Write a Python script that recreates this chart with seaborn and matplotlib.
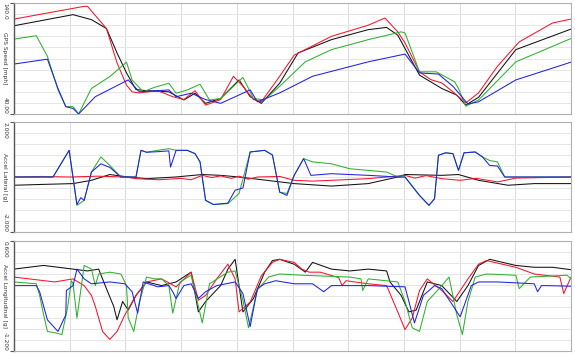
import numpy as np
import pandas as pd
import matplotlib
matplotlib.use("Agg")
import matplotlib.pyplot as plt
import seaborn as sns

sns.set_style("white")
plt.rcParams["font.family"] = ["DejaVu Sans"]

# ---------------- data (distance in grid units) ----------------
# GPS speed [mph]
spd_red_x = [0, 1.26, 1.32, 1.66, 1.85, 2.02, 2.12, 2.25, 2.58, 2.85, 3.05, 3.25, 3.44, 3.71, 3.94, 4.11, 4.30, 4.44, 4.77, 5.03, 5.70, 6.36, 6.66, 6.89, 7.02, 7.28, 7.48, 7.68, 7.88, 8.11, 8.34, 8.68, 9.07, 9.67, 10.0]
spd_red_y = [125.5, 137, 137, 117, 86, 66, 60, 59, 61, 55.6, 53, 61, 48, 53, 74, 65, 53, 51, 74, 93, 110, 120, 126.5, 114, 104, 78, 71, 68, 60, 50, 59, 83, 105, 122, 125.5]
spd_blk_x = [0, 1.06, 1.39, 1.66, 1.85, 2.02, 2.19, 2.38, 2.78, 3.05, 3.25, 3.44, 3.71, 4.04, 4.24, 4.44, 4.77, 5.10, 5.70, 6.36, 6.69, 6.89, 7.28, 7.68, 7.95, 8.11, 8.34, 9.01, 10.0]
spd_blk_y = [119.5, 129.5, 125, 117, 95, 77, 62, 61, 60, 52.6, 58.7, 49.6, 54, 70.7, 55.6, 49.6, 67.7, 95, 107, 116, 118, 111, 75, 63, 57, 48, 55, 98, 116.5]
spd_grn_x = [0, 0.40, 0.60, 0.79, 0.93, 1.06, 1.16, 1.39, 1.72, 2.02, 2.12, 2.32, 2.52, 2.78, 2.91, 3.11, 3.34, 3.51, 3.71, 4.11, 4.30, 4.50, 4.77, 5.23, 5.70, 6.36, 6.95, 7.02, 7.28, 7.58, 7.91, 7.98, 8.11, 8.34, 9.01, 10.0]
spd_grn_y = [107.5, 110.5, 92, 61.7, 46.6, 46.6, 40, 63, 73.7, 86.7, 70.7, 60, 64, 67.7, 58.7, 61.7, 66.8, 52.6, 54, 73, 54, 52.6, 65, 87, 98, 107, 114, 113, 78, 78, 69, 63, 47, 52.6, 87, 108]
spd_blu_x = [0, 0.60, 0.79, 0.93, 1.06, 1.16, 1.46, 2.05, 2.25, 2.78, 2.91, 3.18, 3.44, 3.71, 4.24, 4.37, 4.77, 5.36, 6.36, 7.02, 7.28, 7.62, 7.88, 8.15, 8.34, 9.01, 10.0]
spd_blu_y = [85, 89.4, 63, 46.6, 45, 40, 55.6, 70.7, 60, 61.7, 55.6, 58.7, 53, 49.6, 61.7, 51, 59, 74, 87, 94, 77, 76, 65, 49, 51, 70.7, 86.7]

# Accel lateral [g]
lat_grn_x = [0, 0.70, 0.99, 1.13, 1.26, 1.39, 1.56, 1.72, 1.92, 2.19, 2.28, 2.38, 2.58, 2.78, 2.91, 3.11, 3.25, 3.34, 3.44, 3.58, 3.84, 4.04, 4.24, 4.50, 4.64, 4.77, 4.90, 5.03, 5.20, 5.36, 5.70, 6.03, 6.36, 6.69, 6.89, 7.02, 7.28, 7.45, 7.55, 7.62, 7.75, 7.88, 7.98, 8.08, 8.28, 8.41, 8.54, 8.68, 8.81, 10.0]
lat_grn_y = [0, 0, 0.97, -1.03, -0.85, 0.18, 0.73, 0.42, 0, 0, 0.97, 0.9, 0.97, 1.03, 0.97, 0.97, 0.85, 0.55, -0.85, -1.0, -0.97, -0.6, 0.91, 0.97, 0.8, -0.55, -0.6, 0.06, 0.67, 0.55, 0.48, 0.3, 0.24, 0.18, 0, 0, -0.67, -1.03, -0.79, 0.79, 0.88, 0.85, 0.24, 0.88, 0.91, 0.73, 0.6, 0.55, 0, 0]
lat_blu_x = [0, 0.70, 0.99, 1.13, 1.20, 1.26, 1.39, 1.56, 1.72, 1.92, 2.19, 2.28, 2.38, 2.58, 2.78, 2.81, 2.91, 3.11, 3.25, 3.34, 3.44, 3.58, 3.84, 3.97, 4.11, 4.24, 4.50, 4.64, 4.77, 4.90, 5.03, 5.20, 5.33, 5.70, 6.36, 6.89, 7.02, 7.28, 7.45, 7.55, 7.62, 7.75, 7.88, 7.98, 8.08, 8.28, 8.41, 8.54, 8.68, 8.81, 10.0]
lat_blu_y = [0, 0, 0.97, -1.0, -0.75, -0.85, 0.18, 0.48, 0.35, 0, 0, 0.97, 0.9, 0.92, 0.95, 0.36, 0.97, 0.97, 0.85, 0.55, -0.85, -1.0, -0.95, -0.48, -0.4, 0.91, 0.97, 0.8, -0.55, -0.67, 0.06, 0.67, 0.06, 0.12, 0.06, 0, 0, -0.67, -1.03, -0.79, 0.79, 0.88, 0.85, 0.24, 0.88, 0.91, 0.73, 0.42, 0.4, 0, 0]
lat_red_x = [0, 0.5, 1.0, 1.5, 2.0, 2.19, 2.6, 3.0, 3.18, 3.38, 3.55, 3.71, 3.9, 4.04, 4.2, 4.37, 4.77, 5.03, 5.36, 5.70, 6.36, 7.02, 7.2, 7.4, 7.68, 8.01, 8.3, 8.68, 9.01, 10.0]
lat_red_y = [0, 0.02, 0, 0.03, 0, -0.06, -0.1, -0.05, -0.1, 0.06, -0.02, 0.04, -0.05, 0.03, -0.08, 0, 0.02, -0.12, -0.15, -0.12, -0.06, 0.06, -0.04, 0.05, -0.06, -0.12, -0.05, -0.18, -0.04, 0]
lat_blk_x = [0, 0.5, 1.06, 1.39, 1.72, 2.05, 2.38, 2.9, 3.38, 3.71, 4.04, 4.37, 5.03, 5.70, 6.36, 6.89, 7.02, 7.68, 7.98, 8.34, 8.87, 9.34, 10.0]
lat_blk_y = [-0.3, -0.27, -0.24, -0.12, 0.09, 0, -0.06, 0.0, 0.09, 0.06, 0, -0.08, -0.24, -0.33, -0.24, 0, 0.09, 0.06, 0.09, -0.12, -0.3, -0.24, -0.24]

# Accel longitudinal [g]
lon_blk_x = [0, 0.53, 1.06, 1.32, 1.52, 1.66, 1.79, 1.85, 1.95, 2.05, 2.19, 2.38, 2.65, 2.91, 3.18, 3.31, 3.44, 3.71, 3.84, 3.97, 4.04, 4.11, 4.30, 4.50, 4.64, 4.77, 5.03, 5.23, 5.36, 5.70, 6.03, 6.36, 6.69, 6.75, 6.95, 7.09, 7.22, 7.42, 7.68, 7.95, 8.15, 8.34, 8.54, 9.01, 9.34, 9.67, 10.0]
lon_blk_y = [0.14, 0.2, 0.14, 0.11, 0.14, -0.18, -0.47, -0.69, -0.39, -0.53, -0.29, -0.07, -0.13, -0.07, 0.09, -0.56, -0.39, -0.13, 0.14, 0.3, -0.13, -0.56, -0.34, 0.09, 0.28, 0.3, 0.22, 0.09, 0.25, 0.14, 0.11, 0.14, 0.11, -0.07, -0.29, -0.56, -0.53, -0.07, -0.13, -0.39, -0.13, 0.2, 0.3, 0.2, 0.17, 0.17, 0.13]
lon_red_x = [0, 0.73, 1.06, 1.26, 1.39, 1.46, 1.59, 1.72, 1.85, 1.99, 2.19, 2.38, 2.65, 2.91, 3.18, 3.31, 3.44, 3.64, 3.84, 3.97, 4.04, 4.24, 4.44, 4.64, 4.77, 5.03, 5.17, 5.30, 5.50, 5.83, 5.89, 5.96, 6.36, 6.69, 6.89, 7.02, 7.15, 7.28, 7.42, 7.68, 7.88, 8.15, 8.34, 8.48, 9.01, 9.34, 9.80, 9.87, 10.0]
lon_red_y = [0.01, -0.07, -0.02, -0.13, -0.29, -0.47, -0.88, -1.01, -0.88, -0.61, -0.29, -0.07, -0.02, -0.15, 0.09, -0.37, -0.29, -0.02, 0.22, -0.02, -0.56, -0.4, 0.03, 0.25, 0.3, 0.25, 0.14, 0.09, 0.09, 0.0, -0.13, -0.05, -0.1, -0.13, -0.56, -0.85, -0.66, -0.21, -0.02, -0.21, -0.39, -0.02, 0.22, 0.28, 0.17, 0.06, 0.01, -0.26, 0.01]
lon_grn_x = [0, 0.40, 0.46, 0.53, 0.60, 0.73, 0.86, 0.96, 1.03, 1.06, 1.13, 1.26, 1.39, 1.46, 1.52, 1.72, 1.92, 2.02, 2.05, 2.15, 2.25, 2.38, 2.52, 2.65, 2.78, 2.85, 2.98, 3.18, 3.38, 3.51, 3.84, 3.97, 4.11, 4.21, 4.37, 4.57, 4.77, 5.17, 6.03, 6.23, 6.26, 6.36, 6.89, 7.02, 7.15, 7.28, 7.42, 7.68, 7.81, 7.95, 8.05, 8.15, 8.28, 8.48, 9.01, 9.07, 9.27, 9.93, 10.0]
lon_grn_y = [-0.07, -0.1, -0.29, -0.6, -0.88, -0.9, -0.93, -0.5, -0.05, -0.1, -0.66, 0.2, 0.14, -0.13, 0.06, 0.09, 0.06, -0.13, -0.66, -0.88, -0.4, 0.01, -0.02, -0.02, -0.13, -0.58, -0.07, 0.04, -0.74, -0.1, 0.09, 0.11, -0.37, -0.82, -0.2, 0.01, 0.06, 0.04, 0.01, -0.02, -0.21, -0.02, -0.07, -0.39, -0.82, -0.88, -0.39, -0.13, 0.01, -0.61, -0.93, -0.39, 0.01, 0.06, 0.04, -0.18, 0.01, 0.04, -0.02]
lon_blu_x = [0, 0.40, 0.46, 0.60, 0.79, 0.93, 0.94, 1.06, 1.13, 1.26, 1.39, 1.72, 1.99, 2.12, 2.22, 2.32, 2.58, 2.78, 2.85, 2.91, 3.05, 3.18, 3.31, 3.44, 3.64, 3.97, 4.11, 4.24, 4.37, 4.50, 4.70, 5.03, 5.36, 5.56, 5.70, 6.36, 7.02, 7.09, 7.19, 7.35, 7.55, 7.68, 8.01, 8.21, 8.34, 8.68, 9.34, 9.40, 9.47, 9.54, 10.0]
lon_blu_y = [-0.13, -0.13, -0.23, -0.69, -0.88, -0.61, -0.21, -0.13, 0.14, -0.02, -0.1, -0.07, -0.1, -0.23, -0.58, -0.07, -0.15, -0.13, -0.23, -0.34, -0.13, -0.1, -0.34, -0.23, -0.13, -0.07, -0.26, -0.8, -0.18, -0.1, -0.05, -0.1, -0.1, -0.23, -0.13, -0.13, -0.15, -0.39, -0.74, -0.29, -0.13, -0.18, -0.64, -0.13, -0.07, -0.07, -0.1, -0.23, -0.13, -0.13, -0.14]

panel_titles = ["GPS Speed [mph]", "Accel Lateral [g]", "Accel Longitudinal [g]"]
panel_limits = [(40.0, 140.0), (-2.0, 2.0), (-1.2, 0.6)]
panel_ticklabels = [("40.00", "140.0"), ("-2.000", "2.000"), ("-1.200", "0.600")]

colors = {"black": "#111111", "red": "#f5142e", "green": "#2eb02e", "blue": "#2020e6"}

panels = [
    [("black", spd_blk_x, spd_blk_y), ("red", spd_red_x, spd_red_y),
     ("green", spd_grn_x, spd_grn_y), ("blue", spd_blu_x, spd_blu_y)],
    [("black", lat_blk_x, lat_blk_y), ("red", lat_red_x, lat_red_y),
     ("green", lat_grn_x, lat_grn_y), ("blue", lat_blu_x, lat_blu_y)],
    [("black", lon_blk_x, lon_blk_y), ("red", lon_red_x, lon_red_y),
     ("green", lon_grn_x, lon_grn_y), ("blue", lon_blu_x, lon_blu_y)],
]

W, H = 575, 356
fig = plt.figure(figsize=(W / 100, H / 100), dpi=100)
rects_px = [(3, 114), (122, 232), (241, 351)]
left_px, right_px = 14, 571

for i, (top, bot) in enumerate(rects_px):
    ax = fig.add_axes([left_px / W, 1 - bot / H, (right_px - left_px) / W, (bot - top) / H])
    lo, hi = panel_limits[i]
    for name, xs, ys in panels[i]:
        df = pd.DataFrame({"dist": xs, "val": ys})
        sns.lineplot(data=df, x="dist", y="val", ax=ax, color=colors[name],
                     linewidth=0.75, sort=False, estimator=None)
    ax.set_xlim(0, 10)
    ax.set_ylim(lo, hi)
    ax.set_xticks(np.arange(1, 10))
    ax.set_yticks([lo, hi])
    ax.set_yticks(np.linspace(lo, hi, 11), minor=True)
    ax.xaxis.grid(True, color="#dcdcdc", linewidth=0.7)
    ax.yaxis.grid(True, which="minor", color="#e6e6e6", linewidth=0.7)
    ax.set_axisbelow(True)
    ax.tick_params(axis="x", bottom=False, labelbottom=False)
    ax.tick_params(axis="y", which="minor", length=0)
    ax.tick_params(axis="y", which="major", left=True, length=3, width=0.8,
                   color="#555555", labelleft=False)
    ax.set_xlabel("")
    ax.set_ylabel("")
    for s in ["top", "right", "bottom"]:
        ax.spines[s].set_color("#b0b0b0")
        ax.spines[s].set_linewidth(0.8)
    ax.spines["left"].set_color("#555555")
    ax.spines["left"].set_linewidth(1.0)

    lab_lo, lab_hi = panel_ticklabels[i]
    ax.annotate(lab_hi, xy=(0, 1), xycoords="axes fraction", xytext=(-6.5, 0),
                textcoords="offset points", rotation=-90, rotation_mode="anchor",
                ha="left", va="center", fontsize=4.2, color="#333333")
    ax.annotate(lab_lo, xy=(0, 0), xycoords="axes fraction", xytext=(-6.5, 0),
                textcoords="offset points", rotation=-90, rotation_mode="anchor",
                ha="right", va="center", fontsize=4.2, color="#333333")
    ax.annotate(panel_titles[i], xy=(0, 0.5), xycoords="axes fraction", xytext=(-6.5, 0),
                textcoords="offset points", rotation=-90, rotation_mode="anchor",
                ha="center", va="center", fontsize=4.2, color="#333333")

fig.savefig("out.png", dpi=100)
